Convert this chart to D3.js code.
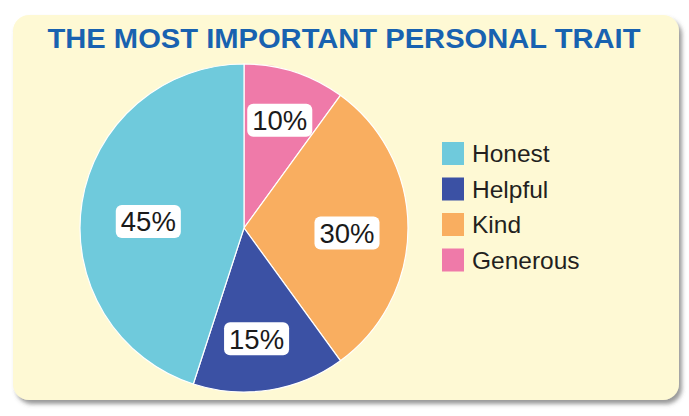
<!DOCTYPE html>
<html>
<head>
<meta charset="utf-8">
<script src="https://cdn.jsdelivr.net/npm/d3@7"></script>
<style>
  body { margin: 0; background: #fff; }
  svg { display: block; }
</style>
</head>
<body>
<svg id="chart" width="689" height="416"></svg>
<script>
// data, in drawing order (clockwise from 12 o'clock)
const traits = ['Generous', 'Kind', 'Helpful', 'Honest'];
const shares = [10, 30, 15, 45];
const traitColors = ['#ef7aa9', '#f9ae60', '#3b51a4', '#6fcadc'];
// legend order
const legendOrder = ['Honest', 'Helpful', 'Kind', 'Generous'];
const title = 'THE MOST IMPORTANT PERSONAL TRAIT';

// hand placed labels in the original: small nudge off the centroid
const labelNudge = {
  Generous: [3, -7],
  Kind: [-3, 5],
  Helpful: [-4, 6],
  Honest: [9, 10]
};

const svg = d3.select('#chart');
const defs = svg.append('defs');
const shadow = defs.append('filter').attr('id', 'shadow')
  .attr('x', '-5%').attr('y', '-5%').attr('width', '110%').attr('height', '115%');
shadow.append('feDropShadow')
  .attr('dx', 3).attr('dy', 4).attr('stdDeviation', 2)
  .attr('flood-color', '#555').attr('flood-opacity', 0.6);

// panel
svg.append('rect')
  .attr('x', 13).attr('y', 15)
  .attr('width', 666).attr('height', 385)
  .attr('rx', 16)
  .attr('fill', '#fef9d4')
  .attr('filter', 'url(#shadow)');

svg.append('text')
  .attr('x', 344).attr('y', 48)
  .attr('text-anchor', 'middle')
  .attr('font-family', 'Liberation Sans, Arial, sans-serif')
  .attr('font-weight', 'bold')
  .attr('font-size', 27)
  .attr('fill', '#1862b0')
  .attr('textLength', 593)
  .attr('lengthAdjust', 'spacingAndGlyphs')
  .text(title);

const color = d3.scaleOrdinal().domain(traits).range(traitColors);

const radius = 164;
const g = svg.append('g').attr('transform', 'translate(244,228)');

const pie = d3.pie().sort(null).value(d => d.v);
const arcs = pie(traits.map((t, i) => ({ t: t, v: shares[i] })));
const arc = d3.arc().innerRadius(0).outerRadius(radius);
const labelArc = d3.arc().innerRadius(106).outerRadius(106);

g.selectAll('path.slice')
  .data(arcs)
  .enter()
  .append('path')
  .attr('class', 'slice')
  .attr('d', arc)
  .attr('fill', d => color(d.data.t))
  .attr('stroke', '#fff')
  .attr('stroke-width', 1.2);

const labels = g.selectAll('g.lab')
  .data(arcs)
  .enter()
  .append('g')
  .attr('class', 'lab')
  .attr('transform', d => {
    const c = labelArc.centroid(d);
    const n = labelNudge[d.data.t];
    return 'translate(' + (c[0] + n[0]) + ',' + (c[1] + n[1]) + ')';
  });

labels.append('rect')
  .attr('y', -16.5)
  .attr('height', 33)
  .attr('rx', 6)
  .attr('fill', '#fff');

labels.append('text')
  .attr('text-anchor', 'middle')
  .attr('dy', '0.36em')
  .attr('font-family', 'Liberation Sans, Arial, sans-serif')
  .attr('font-size', 27.5)
  .attr('fill', '#1a1a1a')
  .text(d => d.data.v + '%');

// size the label boxes to the text
labels.each(function () {
  const grp = d3.select(this);
  const w = grp.select('text').node().getComputedTextLength();
  grp.select('rect').attr('x', -w / 2 - 5).attr('width', w + 10);
});

// legend
const legY = d3.scaleBand().domain(legendOrder).range([140, 282]);
const legend = svg.append('g').selectAll('g')
  .data(legendOrder)
  .enter()
  .append('g')
  .attr('transform', d => 'translate(442,' + legY(d) + ')');

legend.append('rect')
  .attr('y', 2)
  .attr('width', 22).attr('height', 23)
  .attr('fill', d => color(d));

legend.append('text')
  .attr('x', 30).attr('y', 22)
  .attr('font-family', 'Liberation Sans, Arial, sans-serif')
  .attr('font-size', 24.5)
  .attr('fill', '#231f20')
  .text(d => d);
</script>
</body>
</html>
